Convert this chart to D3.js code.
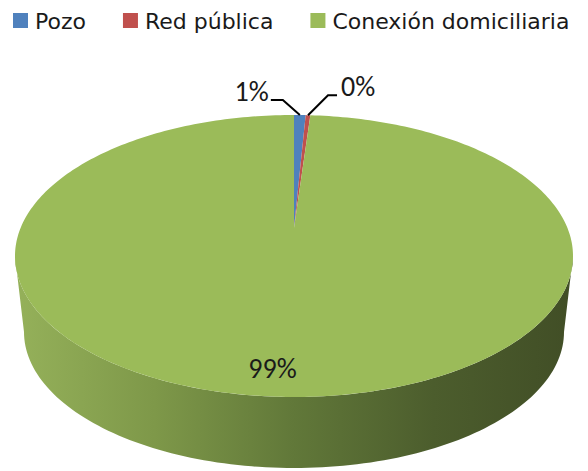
<!DOCTYPE html>
<html>
<head>
<meta charset="utf-8">
<script src="https://d3js.org/d3.v7.min.js"></script>
<style>
    body { margin: 0; background: #ffffff; }
    text { font-family: "Carlito", "Liberation Sans Narrow", "Open Sans", sans-serif; fill: #1a1a1a; }
    .legend-label { font-family: "DejaVu Sans", sans-serif; font-size: 22px; }
    .pct-label { font-size: 28px; }
</style>
</head>
<body>
<div id="chart"></div>
<script>
    // data
    const categories = ["Pozo", "Red pública", "Conexión domiciliaria"];
    const values = [5, 2, 743];
    const percentLabels = ["1%", "0%", "99%"];
    const colors = ["#4F81BD", "#C0504D", "#9BBB59"];

    const width = 588, height = 471;

    // geometry of the 3D pie (top face ellipse + side)
    const cx = 294, cy = 256, rx = 279, ry = 141;
    const bcx = 294, bcy = 332, brx = 270, bry = 136;
    const vertexY = 228; // perspective centre of the top face

    const svg = d3.select("#chart")
        .append("svg")
        .attr("width", width)
        .attr("height", height);

    const defs = svg.append("defs");
    const grad = defs.append("linearGradient")
        .attr("id", "sideGrad")
        .attr("x1", "0%").attr("x2", "100%")
        .attr("y1", "0%").attr("y2", "0%");
    [[0, "#95B15A"], [0.25, "#7E9849"], [0.5, "#617839"], [0.75, "#4C5D2D"], [1, "#414E26"]]
        .forEach(s => grad.append("stop").attr("offset", s[0]).attr("stop-color", s[1]));

    const topPt = t => [cx + rx * Math.sin(t), cy - ry * Math.cos(t)];
    const botPt = t => [bcx + brx * Math.sin(t), bcy - bry * Math.cos(t)];

    // side face: front half of top ellipse, back along bottom ellipse
    const steps = 120;
    const sidePts = [];
    for (let i = 0; i <= steps; i++) {
        const t = Math.PI / 2 + Math.PI * i / steps;
        sidePts.push(topPt(t));
    }
    for (let i = steps; i >= 0; i--) {
        const t = Math.PI / 2 + Math.PI * i / steps;
        sidePts.push(botPt(t));
    }
    svg.append("path")
        .attr("d", d3.line()(sidePts) + "Z")
        .attr("fill", "url(#sideGrad)");

    // slices on the top face
    const pie = d3.pie().sort(null).value(d => d)(values);

    const slicePath = d => {
        const pts = [[cx, vertexY]];
        const n = Math.max(4, Math.ceil((d.endAngle - d.startAngle) * 60));
        for (let i = 0; i <= n; i++) {
            pts.push(topPt(d.startAngle + (d.endAngle - d.startAngle) * i / n));
        }
        return d3.line()(pts) + "Z";
    };

    svg.selectAll("path.slice")
        .data(pie)
        .join("path")
        .attr("class", "slice")
        .attr("d", slicePath)
        .attr("fill", (d, i) => colors[i]);

    // data labels
    const mid = d => (d.startAngle + d.endAngle) / 2;
    // small slices: leader lines with elbow
    const leaders = [
        { i: 0, dx: -17, dy: -15, run: -12, anchor: "end" },
        { i: 1, dx: 20, dy: -20, run: 9, anchor: "start" }
    ];
    leaders.forEach(l => {
        const d = pie[l.i];
        const a = topPt(mid(d));
        const e = [a[0] + l.dx, a[1] + l.dy];
        const f = [e[0] + l.run, e[1]];
        svg.append("path")
            .attr("d", d3.line()([a, e, f]))
            .attr("fill", "none")
            .attr("stroke", "#000")
            .attr("stroke-width", 2);
        svg.append("text")
            .attr("class", "pct-label")
            .attr("x", f[0] + (l.anchor === "end" ? -2 : 4))
            .attr("y", f[1] + 1)
            .attr("text-anchor", l.anchor)
            .text(percentLabels[l.i]);
    });

    // big slice label
    const big = pie[2];
    const bp = [cx + 0.8 * rx * Math.sin(mid(big)) - 15, cy - 0.8 * ry * Math.cos(mid(big))];
    svg.append("text")
        .attr("class", "pct-label")
        .attr("x", bp[0])
        .attr("y", bp[1] + 9)
        .attr("text-anchor", "middle")
        .text(percentLabels[2]);

    // legend
    const legend = svg.append("g").attr("transform", "translate(13, 0)");
    let lx = 0;
    categories.forEach((c, i) => {
        const g = legend.append("g").attr("transform", `translate(${lx}, 0)`);
        g.append("rect")
            .attr("x", 0).attr("y", 13)
            .attr("width", 15).attr("height", 15)
            .attr("fill", colors[i]);
        const t = g.append("text")
            .attr("class", "legend-label")
            .attr("x", 22).attr("y", 28.5)
            .text(c);
        lx += 22 + t.node().getComputedTextLength() + 37;
    });
</script>
</body>
</html>
